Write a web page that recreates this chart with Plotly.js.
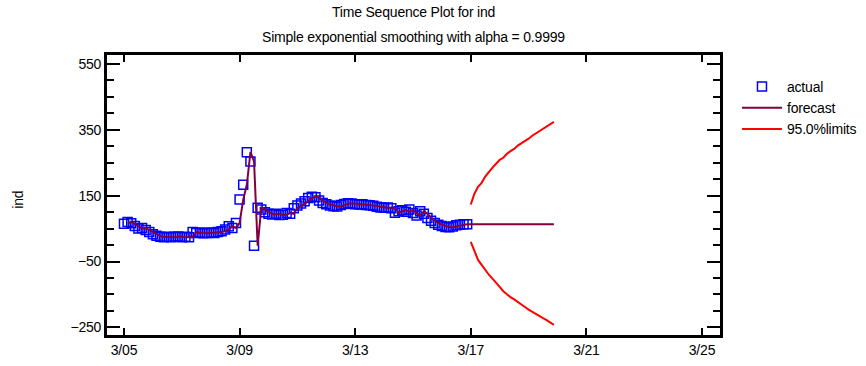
<!DOCTYPE html>
<html><head><meta charset="utf-8">
<script src="https://cdn.plot.ly/plotly-3.0.1.min.js"></script>
<style>html,body{margin:0;padding:0;background:#fff} svg text{letter-spacing:-0.2px}</style>
</head><body><div id="chart" style="width:866px;height:366px"></div>
<script>
// Time in days of March (3-hourly observations)
const actualDays = [5,5.125,5.25,5.375,5.5,5.625,5.75,5.875,
6,6.125,6.25,6.375,6.5,6.625,6.75,6.875,
7,7.125,7.25,7.375,7.5,7.625,7.75,7.875,
8,8.125,8.25,8.375,8.5,8.625,8.75,8.875,
9,9.125,9.25,9.375,9.5,9.625,9.75,9.875,
10,10.125,10.25,10.375,10.5,10.625,10.75,10.875,
11,11.125,11.25,11.375,11.5,11.625,11.75,11.875,
12,12.125,12.25,12.375,12.5,12.625,12.75,12.875,
13,13.125,13.25,13.375,13.5,13.625,13.75,13.875,
14,14.125,14.25,14.375,14.5,14.625,14.75,14.875,
15,15.125,15.25,15.375,15.5,15.625,15.75,15.875,
16,16.125,16.25,16.375,16.5,16.625,16.75,16.875];
const actualValues = [65,70,66,58,50,52,46,40,33,28,
25,24,25,24,25,26,24,25,24,40,
37,38,36,37,38,37,40,42,47,57,
52,67,138,183,282,254,-2,113,108,100,
95,93,95,91,92,97,95,112,120,126,
133,143,147,145,135,128,124,120,118,117,
122,125,127,126,124,123,124,122,121,119,
116,114,113,114,112,98,103,106,101,108,
97,90,103,95,82,74,67,62,58,55,
54,56,60,62,63,63];
// One-step-ahead fitted values (times actualDays[1..])
const fittedValues = [65,70,66,58,50,52,46,40,33,28,
25,24,25,24,25,26,24,25,24,40,
37,38,36,37,38,37,40,42,47,57,
52,67,138,183,282,254,-2,113,108,100,
95,93,95,91,92,97,95,112,120,126,
133,143,147,145,135,128,124,120,118,117,
122,125,127,126,124,123,124,122,121,119,
116,114,113,114,112,98,103,106,101,108,
97,90,103,95,82,74,67,62,58,55,
54,56,60,62,63];
// Forecast horizon
const leadDays = [17,17.125,17.25,17.375,17.5,17.625,17.75,17.875,
18,18.125,18.25,18.375,18.5,18.625,18.75,18.875,
19,19.125,19.25,19.375,19.5,19.625,19.75,19.875];
const forecastValues = [63,63,63,63,63,63,63,63,63,63,63,63,63,63,63,63,63,63,63,63,63,63,63,63];
const upperLimits = [123,156,177,189,208,223,235,247,259,265,277,285,292,302,309,315,323,332,339,347,355,362,368,374];
const lowerLimits = [10,-20,-45,-60,-76,-90,-102,-113,-127,-140,-150,-158,-165,-172,-180,-188,-196,-203,-210,-215,-222,-228,-235,-242];
const xTickVals = [5,9,13,17,21,25];
const xTickText = ['3/05','3/09','3/13','3/17','3/21','3/25'];

const FONT = 'Liberation Sans, Arial, sans-serif';
const traces = [
  {x: actualDays, y: actualValues, type:'scatter', mode:'markers', name:'actual',
   marker:{symbol:'square-open', size:9, color:'#0000FF', line:{width:1.5, color:'#0000FF'}}},
  {x: actualDays.slice(1).concat(leadDays), y: fittedValues.concat(forecastValues), type:'scatter', mode:'lines', name:'forecast',
   line:{color:'#800040', width:2}},
  {x: leadDays, y: upperLimits, type:'scatter', mode:'lines', name:'95.0%limits', legendgroup:'lim',
   line:{color:'#FF0000', width:2}},
  {x: leadDays, y: lowerLimits, type:'scatter', mode:'lines', name:'95.0%limits', legendgroup:'lim', showlegend:false,
   line:{color:'#FF0000', width:2}}
];
const layout = {
  width:866, height:366,
  margin:{l:107, r:146, t:55, b:31, pad:0},
  paper_bgcolor:'#fff', plot_bgcolor:'#fff',
  font:{family:FONT, size:14, color:'#000'},
  showlegend:true,
  legend:{xref:'container', yref:'container', x:0.851, y:0.806, xanchor:'left', yanchor:'top',
          font:{family:FONT, size:14, color:'#000'},
          bgcolor:'rgba(0,0,0,0)', tracegroupgap:0, itemwidth:40},
  xaxis:{range:[4.412,25.623], tickmode:'array', tickvals:xTickVals, ticktext:xTickText,
         ticks:'inside', ticklen:7, tickwidth:2, tickcolor:'#000',
         showline:true, linewidth:3, linecolor:'#000', mirror:'allticks',
         showgrid:false, zeroline:false, tickfont:{family:FONT, size:14}},
  yaxis:{range:[-273,577], tickmode:'linear', tick0:-250, dtick:200,
         ticks:'inside', ticklen:13, tickwidth:2, tickcolor:'#000',
         showline:true, linewidth:3, linecolor:'#000', mirror:'allticks',
         showgrid:false, zeroline:false, tickfont:{family:FONT, size:14},
         minor:{tickmode:'linear', tick0:-250, dtick:50, ticklen:7, tickwidth:2, tickcolor:'#000', ticks:'inside', showgrid:false}},
  annotations:[
    {text:'Time Sequence Plot for ind', xref:'paper', yref:'paper', x:0.5, y:1.153, xanchor:'center', yanchor:'middle', showarrow:false, font:{family:FONT, size:14}},
    {text:'Simple exponential smoothing with alpha = 0.9999', xref:'paper', yref:'paper', x:0.5, y:1.064, xanchor:'center', yanchor:'middle', showarrow:false, font:{family:FONT, size:14}},
    {text:'ind', xref:'paper', yref:'paper', x:-0.1454, y:0.483, xanchor:'center', yanchor:'middle', textangle:-90, showarrow:false, font:{family:FONT, size:14}}
  ]
};
Plotly.newPlot('chart', traces, layout, {displayModeBar:false, staticPlot:true});
</script>
</body></html>
